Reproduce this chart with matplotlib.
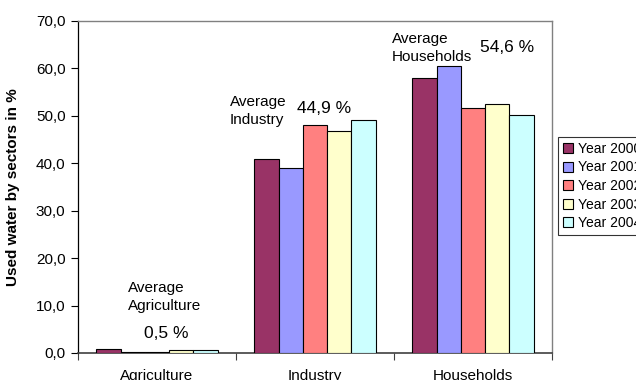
import matplotlib
matplotlib.use("Agg")
import matplotlib.pyplot as plt
from matplotlib.ticker import FuncFormatter, FixedLocator

plt.rcParams['font.family'] = ['Liberation Sans', 'DejaVu Sans']

sectors = ["Agriculture", "Industry", "Households"]
years = ["Year 2000", "Year 2001", "Year 2002", "Year 2003", "Year 2004"]
share_2000 = [0.9, 41.0, 58.0]
share_2001 = [0.2, 39.0, 60.6]
share_2002 = [0.2, 48.1, 51.6]
share_2003 = [0.6, 46.8, 52.5]
share_2004 = [0.6, 49.1, 50.1]
averages = ["0,5 %", "44,9 %", "54,6 %"]
average_titles = ["Average\nAgriculture", "Average\nIndustry", "Average\nHouseholds"]

series = [share_2000, share_2001, share_2002, share_2003, share_2004]
colors = ["#993366", "#9999FF", "#FF8080", "#FFFFCC", "#CCFFFF"]

fig = plt.figure(figsize=(6.36, 3.80), dpi=100)
ax = fig.add_axes([78 / 636, 1 - 353 / 380, 474 / 636, 332 / 380])

bar_w = 0.154
for i, (vals, col, lab) in enumerate(zip(series, colors, years)):
    xs = [k + (i - 2) * bar_w for k in range(len(sectors))]
    ax.bar(xs, vals, width=bar_w, color=col, edgecolor="black", linewidth=0.8, label=lab, zorder=3)

ax.set_xlim(-0.5, 2.5)
ax.set_ylim(0, 70)
ax.set_yticks(range(0, 71, 10))
ax.yaxis.set_major_formatter(FuncFormatter(lambda v, p: f"{v:.1f}".replace(".", ",")))
ax.tick_params(axis="y", direction="out", length=5, width=0.8, labelsize=11, pad=4, color="black")

# Category boundaries carry the ticks, category centres carry the names
ax.xaxis.set_major_locator(FixedLocator([-0.5, 0.5, 1.5, 2.5]))
ax.xaxis.set_major_formatter(FuncFormatter(lambda v, p: ""))
ax.xaxis.set_minor_locator(FixedLocator([0, 1, 2]))
ax.set_xticklabels(sectors, minor=True)
ax.tick_params(axis="x", which="major", direction="out", length=5, width=0.8, color="#404040")
ax.tick_params(axis="x", which="minor", length=0, labelsize=11, pad=11.5)

for side in ["top", "right"]:
    ax.spines[side].set_color("#808080")
    ax.spines[side].set_linewidth(1.0)
ax.spines["left"].set_color("black")
ax.spines["bottom"].set_color("#404040")
ax.spines["left"].set_linewidth(0.9)
ax.spines["bottom"].set_linewidth(1.2)

ax.set_ylabel("Used water by sectors in %", fontsize=11, fontweight="bold")
ax.yaxis.set_label_coords(-0.122, 0.5)

title_pos = [(-0.184, 11.8), (0.462, 51.0), (1.487, 64.3)]
value_pos = [(-0.082, 4.2), (0.886, 51.65), (2.044, 64.5)]
for t, (tx, ty) in zip(average_titles, title_pos):
    ax.text(tx, ty, t, ha="left", va="center", fontsize=11, linespacing=1.3, zorder=4)
for t, (vx, vy) in zip(averages, value_pos):
    ax.text(vx, vy, t, ha="left", va="center", fontsize=12.5, zorder=4)

leg = fig.legend(loc="upper left", bbox_to_anchor=(558 / 636, 1 - 137 / 380),
                 fontsize=10, frameon=True, fancybox=False, shadow=False,
                 handlelength=0.75, handleheight=0.75, handletextpad=0.35,
                 labelspacing=0.33, borderpad=0.35, borderaxespad=0)
leg.get_frame().set_edgecolor("black")
leg.get_frame().set_linewidth(0.8)

fig.savefig("out.png", dpi=100)
